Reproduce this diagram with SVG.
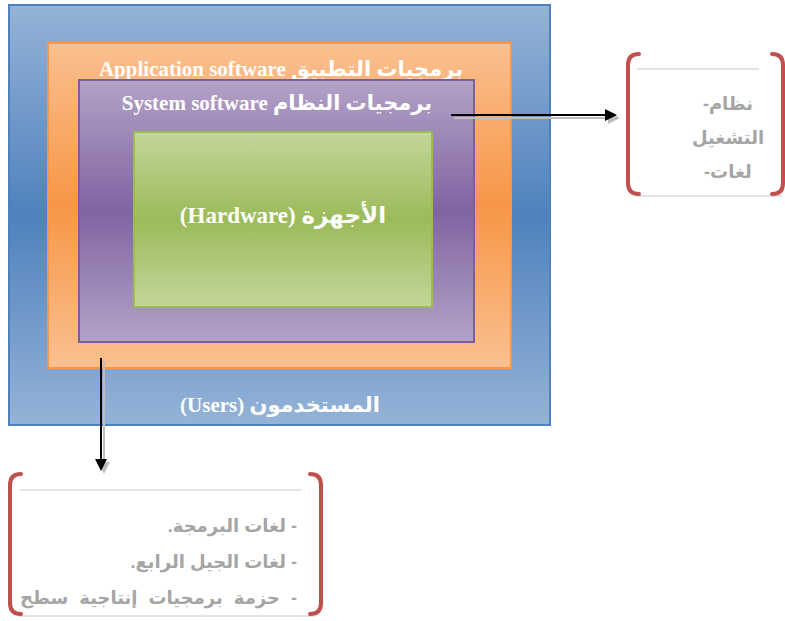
<svg xmlns="http://www.w3.org/2000/svg" width="785" height="621" viewBox="0 0 785 621">
<style>
.title{font-family:"Liberation Serif","DejaVu Sans",serif;font-weight:bold;font-size:21px;fill:#ffffff;text-anchor:middle}
.note{font-family:"Liberation Sans","DejaVu Sans",sans-serif;font-weight:bold;font-size:18px;fill:#a5a5a5}
.ltr{direction:ltr;unicode-bidi:embed}
.bracket{fill:none;stroke:#c0504d;stroke-width:4;stroke-linecap:round}
.rule{stroke:#c8c8c8;stroke-width:1}
.conn{stroke:#000000;stroke-width:2;fill:none}
.shadow{stroke:#bdbdbd;stroke-width:2;fill:none}
</style>
<defs>
<linearGradient id="gBlue" x1="0" y1="0" x2="0" y2="1">
<stop offset="0" stop-color="#95b3d7"/><stop offset="0.5" stop-color="#4f81bd"/><stop offset="1" stop-color="#95b3d7"/>
</linearGradient>
<linearGradient id="gOrange" x1="0" y1="0" x2="0" y2="1">
<stop offset="0" stop-color="#fac090"/><stop offset="0.5" stop-color="#f79646"/><stop offset="1" stop-color="#fac090"/>
</linearGradient>
<linearGradient id="gPurple" x1="0" y1="0" x2="0" y2="1">
<stop offset="0" stop-color="#b3a2c7"/><stop offset="0.5" stop-color="#8064a2"/><stop offset="1" stop-color="#b3a2c7"/>
</linearGradient>
<linearGradient id="gGreen" x1="0" y1="0" x2="0" y2="1">
<stop offset="0" stop-color="#c3d69b"/><stop offset="0.5" stop-color="#9bbb59"/><stop offset="1" stop-color="#c3d69b"/>
</linearGradient>
<marker id="ah" markerWidth="6" markerHeight="6" refX="5" refY="3" orient="auto" markerUnits="strokeWidth">
<path d="M0,0 L6,3 L0,6 Z" fill="#000000"/>
</marker>
<marker id="ahs" markerWidth="6" markerHeight="6" refX="5" refY="3" orient="auto" markerUnits="strokeWidth">
<path d="M0,0 L6,3 L0,6 Z" fill="#bdbdbd"/>
</marker>
</defs>

<g id="users">
<rect x="9" y="5" width="541" height="420" fill="url(#gBlue)" stroke="#4f81bd" stroke-width="2"/>
<text class="title" x="280" y="412" direction="rtl">المستخدمون (Users)</text>
</g>
<g id="application">
<rect x="48" y="43" width="463" height="325" fill="url(#gOrange)" stroke="#f79646" stroke-width="2"/>
<text class="title" x="281" y="76" direction="rtl">برمجيات التطبيق Application software</text>
</g>
<g id="system">
<rect x="79" y="80" width="395" height="262" fill="url(#gPurple)" stroke="#7a5fa0" stroke-width="2"/>
<text class="title" x="277" y="110" direction="rtl">برمجيات النظام System software</text>
</g>
<g id="hardware">
<rect x="134" y="132" width="298" height="175" fill="url(#gGreen)" stroke="#9bbb59" stroke-width="2"/>
<text class="title" x="283" y="223" direction="rtl" style="font-size:23px">الأجهزة (Hardware)</text>
</g>

<g id="connectors">
<line class="shadow" x1="454" y1="118" x2="618" y2="118" marker-end="url(#ahs)"/>
<line class="conn" x1="451" y1="115" x2="615" y2="115" marker-end="url(#ah)"/>
<line class="shadow" x1="104" y1="361" x2="104" y2="472" marker-end="url(#ahs)"/>
<line class="conn" x1="101" y1="358" x2="101" y2="469" marker-end="url(#ah)"/>
</g>

<g id="system-note">
<line class="rule" x1="637" y1="69" x2="759" y2="69"/>
<line class="rule" x1="636" y1="196" x2="782" y2="196"/>
<path class="bracket" d="M639,54 Q628,54 628,65 L628,183 Q628,194 639,194"/>
<path class="bracket" d="M772,54 Q783,54 783,65 L783,183 Q783,194 772,194"/>
<text class="note ltr" x="728" y="110" text-anchor="middle">&#x200E;-نظام</text>
<text class="note" x="728" y="144" text-anchor="middle" direction="rtl">التشغيل</text>
<text class="note ltr" x="728" y="178" text-anchor="middle">&#x200E;-لغات</text>
</g>

<g id="application-note">
<line class="rule" x1="20" y1="490" x2="302" y2="490"/>
<line class="rule" x1="18" y1="616" x2="315" y2="616"/>
<path class="bracket" d="M21,474 Q10,474 10,485 L10,603 Q10,614 21,614"/>
<path class="bracket" d="M310,474 Q321,474 321,485 L321,603 Q321,614 310,614"/>
<text class="note" x="297" y="532" direction="rtl">- لغات البرمجة.</text>
<text class="note" x="297" y="568" direction="rtl">- لغات الجيل الرابع.</text>
<text class="note" x="297" y="604" direction="rtl" word-spacing="6">- حزمة برمجيات إنتاجية سطح</text>
</g>
</svg>
